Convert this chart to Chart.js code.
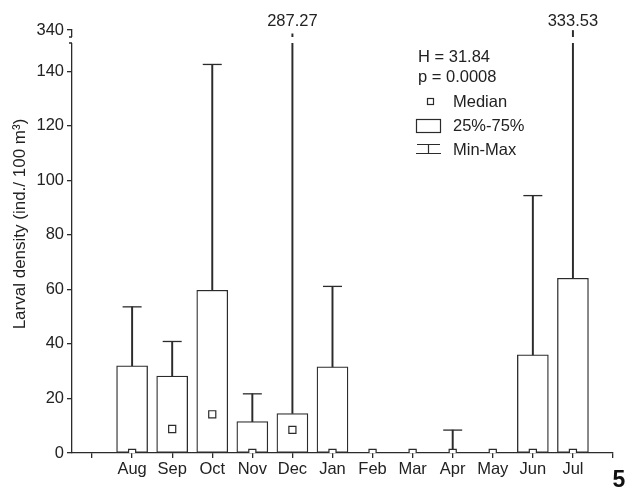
<!DOCTYPE html>
<html lang="en">
<head>
    <meta charset="UTF-8">
    <title>Larval density</title>
    <script src="https://cdn.jsdelivr.net/npm/chart.js"></script>
    <style>
        body { margin: 0; background: #fff; }
    </style>
</head>
<body>
<canvas id="larvaChart" width="627" height="491"></canvas>

<script>
    // tick labels along x (blank ends), months sit at positions 1..12
    const tickLabels = ['', 'Aug', 'Sep', 'Oct', 'Nov', 'Dec', 'Jan', 'Feb', 'Mar', 'Apr', 'May', 'Jun', 'Jul', ''];
    const months = tickLabels.slice(1, 13);
    const q1Vals = [0, 0, 0, 0, 0, 0, 0, 0, 0, 0, 0, 0];
    const q3Vals = [32.0, 28.2, 59.7, 11.5, 14.5, 31.6, 0, 0, 0, 0, 36.0, 64.1];
    const medianVals = [0, 8.8, 14.2, 0, 8.5, 0, 0, 0, 0, 0, 0, 0];
    const maxVals = [53.6, 40.9, 142.5, 21.7, 287.27, 61.1, 0, 0, 8.4, 0, 94.4, 333.53];
    const yTicks = [0, 20, 40, 60, 80, 100, 120, 140, 340];
    const BREAK = 150;
    const Y_MAX = 340;

    const INK = '#2b2b2b';
    const FONT = "'Liberation Sans', Arial, sans-serif";

    // linear axis with a break above 150: the part 150..340 is squeezed into a few pixels
    class BrokenLinearScale extends Chart.LinearScale {
        static id = 'brokenLinear';
        getPixelForValue(value) {
            const lowTop = this.top + 14;
            if (value <= BREAK) {
                return this.bottom - (value / BREAK) * (this.bottom - lowTop);
            }
            return lowTop - (value - BREAK) / (Y_MAX - BREAK) * (lowTop - this.top);
        }
        getValueForPixel(pixel) {
            const lowTop = this.top + 14;
            if (pixel >= lowTop) return (this.bottom - pixel) / (this.bottom - lowTop) * BREAK;
            return BREAK + (lowTop - pixel) / (lowTop - this.top) * (Y_MAX - BREAK);
        }
    }
    Chart.register(BrokenLinearScale);

    const boxData = months.map((m, i) => ({ x: i + 1, y: [q1Vals[i], q3Vals[i]] }));
    const whiskerData = months.map((m, i) => ({ x: i + 1, y: [q3Vals[i], maxVals[i]] }));
    const capData = months.map((m, i) => ({ x: i + 1, y: maxVals[i] <= BREAK ? maxVals[i] : null }));
    const medianData = months.map((m, i) => ({ x: i + 1, y: medianVals[i] }));

    const extrasPlugin = {
        id: 'extras',
        afterDraw(chart) {
            const ctx = chart.ctx;
            const area = chart.chartArea;
            const xs = chart.scales.x;
            ctx.save();

            // axis break: white band cuts the y axis and the long whiskers
            const gapTop = area.top + 7, gapBottom = area.top + 13;
            ctx.fillStyle = '#fff';
            ctx.fillRect(area.left - 4, gapTop, area.right - area.left + 4, gapBottom - gapTop);
            ctx.strokeStyle = INK;
            ctx.lineWidth = 1.3;
            ctx.beginPath();
            ctx.moveTo(area.left - 3, gapTop); ctx.lineTo(area.left, gapTop);
            ctx.moveTo(area.left - 3, gapBottom); ctx.lineTo(area.left, gapBottom);
            ctx.stroke();

            // y axis title, a little above the middle of the plot
            ctx.fillStyle = '#222';
            ctx.font = '17px ' + FONT;
            ctx.textAlign = 'center';
            ctx.textBaseline = 'middle';
            ctx.save();
            ctx.translate(20, 224);
            ctx.rotate(-Math.PI / 2);
            ctx.fillText('Larval density (ind./ 100 m³)', 0, 0);
            ctx.restore();

            // values of whiskers that run past the break
            ctx.font = '16.5px ' + FONT;
            maxVals.forEach((v, i) => {
                if (v > BREAK) ctx.fillText(v.toFixed(2), xs.getPixelForValue(i + 1), area.top - 9);
            });

            // legend block
            ctx.textAlign = 'left';
            ctx.fillText('H = 31.84', 418, 57);
            ctx.fillText('p = 0.0008', 418, 77);
            ctx.fillText('Median', 453, 102);
            ctx.fillText('25%-75%', 453, 126);
            ctx.fillText('Min-Max', 453, 150);

            ctx.lineWidth = 1.2;
            ctx.strokeRect(427.5, 98.5, 6, 6);
            ctx.strokeRect(416.5, 119.5, 24, 13);
            ctx.beginPath();
            ctx.moveTo(417, 144.5); ctx.lineTo(440, 144.5);
            ctx.moveTo(428.5, 144.5); ctx.lineTo(428.5, 153.5);
            ctx.moveTo(416, 153.5); ctx.lineTo(441, 153.5);
            ctx.stroke();

            // panel number
            ctx.font = 'bold 23px ' + FONT;
            ctx.textAlign = 'center';
            ctx.fillStyle = '#111';
            ctx.fillText('5', 619, 481);
            ctx.restore();
        }
    };

    const ctx = document.getElementById('larvaChart').getContext('2d');
    new Chart(ctx, {
        type: 'bar',
        data: {
            datasets: [
                {
                    type: 'scatter',
                    label: 'Median',
                    data: medianData,
                    pointStyle: 'rect',
                    radius: 5,
                    backgroundColor: '#fff',
                    borderColor: INK,
                    borderWidth: 1.2,
                    order: 0
                },
                {
                    type: 'scatter',
                    label: 'Max cap',
                    data: capData,
                    pointStyle: 'line',
                    radius: 9.5,
                    borderColor: INK,
                    borderWidth: 1.3,
                    order: 1
                },
                {
                    label: 'Min-Max',
                    data: whiskerData,
                    backgroundColor: INK,
                    borderWidth: 0,
                    barThickness: 1.3,
                    grouped: false,
                    order: 2
                },
                {
                    label: '25%-75%',
                    data: boxData,
                    backgroundColor: '#fff',
                    borderColor: INK,
                    borderWidth: 1.3,
                    borderSkipped: false,
                    barThickness: 31,
                    grouped: false,
                    order: 3
                }
            ]
        },
        options: {
            responsive: false,
            animation: false,
            events: [],
            layout: { padding: { top: 30, right: 14, left: 0, bottom: 0 } },
            plugins: {
                legend: { display: false },
                tooltip: { enabled: false }
            },
            scales: {
                x: {
                    type: 'linear',
                    min: -0.5,
                    max: 13,
                    offset: false,
                    afterBuildTicks: (axis) => { axis.ticks = tickLabels.map((t, i) => ({ value: i })); },
                    afterFit: (axis) => { axis.height = 38; },
                    grid: { offset: false, drawOnChartArea: false, drawTicks: true, tickLength: 5, color: INK, lineWidth: 1.3 },
                    border: { color: INK, width: 1.3 },
                    ticks: {
                        autoSkip: false,
                        maxRotation: 0,
                        padding: 2,
                        color: '#222',
                        font: { family: FONT, size: 16.5 },
                        callback: (v) => tickLabels[v] ?? ''
                    }
                },
                y: {
                    type: 'brokenLinear',
                    min: 0,
                    max: Y_MAX,
                    afterBuildTicks: (axis) => { axis.ticks = yTicks.map(v => ({ value: v })); },
                    afterFit: (axis) => { axis.width = 72; },
                    grid: { drawOnChartArea: false, drawTicks: true, tickLength: 5, color: INK, lineWidth: 1.3 },
                    border: { color: INK, width: 1.3 },
                    ticks: {
                        padding: 3,
                        color: '#222',
                        font: { family: FONT, size: 16.5 },
                        callback: (v) => String(v)
                    }
                }
            }
        },
        plugins: [extrasPlugin]
    });
</script>
</body>
</html>
